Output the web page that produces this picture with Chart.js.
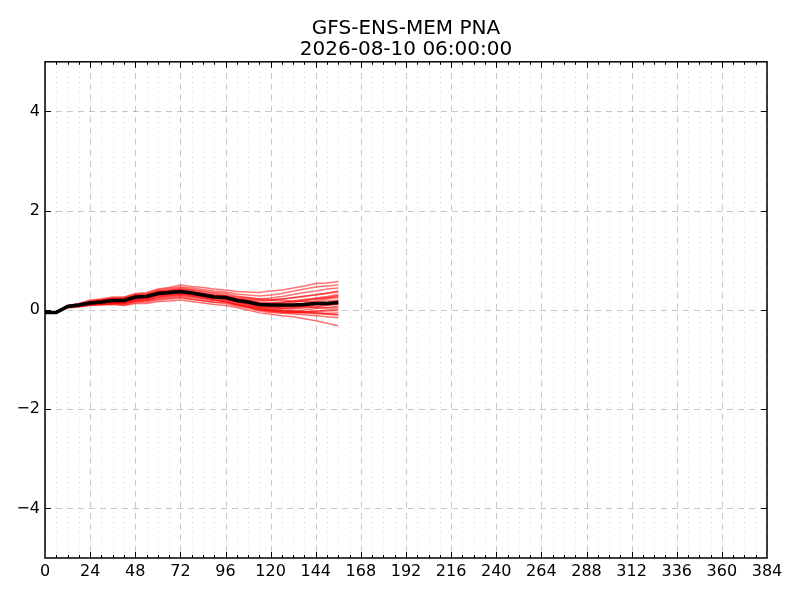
<!DOCTYPE html>
<html>
<head>
<meta charset="utf-8">
<title>GFS-ENS-MEM PNA</title>
<script src="https://cdn.jsdelivr.net/npm/chart.js@4.4.1/dist/chart.umd.min.js"></script>
<style>
  body { margin: 0; background: #fff; }
  #wrap { width: 800px; height: 600px; }
</style>
</head>
<body>
<div id="wrap"><canvas id="grafico" width="800" height="600"></canvas></div>
<script>
// horas de pronostico
const horas = [0, 6, 12, 18, 24, 30, 36, 42, 48, 54, 60, 66, 72, 78, 84, 90, 96, 102, 108, 114, 120, 126, 132, 138, 144, 150, 156];
const ticksX = [0, 24, 48, 72, 96, 120, 144, 168, 192, 216, 240, 264, 288, 312, 336, 360, 384];
const ticksY = [-4, -2, 0, 2, 4];

// media del ensamble
const media = [-0.05, -0.05, 0.07, 0.10, 0.14, 0.16, 0.19, 0.19, 0.26, 0.27, 0.33, 0.35, 0.37, 0.34, 0.30, 0.26, 0.25, 0.19, 0.16, 0.11, 0.10, 0.10, 0.10, 0.11, 0.13, 0.13, 0.15];

// miembros del ensamble
const m01 = [-0.04, -0.04, 0.08, 0.12, 0.18, 0.21, 0.24, 0.25, 0.31, 0.33, 0.40, 0.43, 0.46, 0.44, 0.41, 0.38, 0.36, 0.32, 0.30, 0.28, 0.30, 0.33, 0.38, 0.42, 0.46, 0.48, 0.50];
const m02 = [-0.05, -0.04, 0.09, 0.13, 0.20, 0.22, 0.26, 0.26, 0.33, 0.35, 0.42, 0.45, 0.50, 0.47, 0.45, 0.42, 0.40, 0.37, 0.36, 0.35, 0.38, 0.40, 0.44, 0.48, 0.53, 0.54, 0.57];
const m03 = [-0.05, -0.05, 0.08, 0.11, 0.16, 0.19, 0.22, 0.22, 0.29, 0.31, 0.38, 0.40, 0.42, 0.40, 0.36, 0.33, 0.30, 0.26, 0.24, 0.22, 0.24, 0.27, 0.31, 0.35, 0.38, 0.42, 0.44];
const m04 = [-0.06, -0.05, 0.07, 0.10, 0.15, 0.17, 0.20, 0.21, 0.27, 0.28, 0.35, 0.37, 0.40, 0.36, 0.33, 0.30, 0.28, 0.23, 0.20, 0.18, 0.19, 0.22, 0.25, 0.28, 0.30, 0.33, 0.36];
const m05 = [-0.05, -0.06, 0.06, 0.09, 0.13, 0.15, 0.18, 0.18, 0.25, 0.26, 0.32, 0.34, 0.36, 0.32, 0.28, 0.24, 0.22, 0.17, 0.14, 0.12, 0.13, 0.15, 0.17, 0.20, 0.22, 0.24, 0.27];
const m06 = [-0.04, -0.05, 0.07, 0.11, 0.15, 0.17, 0.21, 0.20, 0.28, 0.29, 0.34, 0.36, 0.38, 0.35, 0.31, 0.27, 0.26, 0.20, 0.16, 0.10, 0.08, 0.08, 0.10, 0.14, 0.18, 0.22, 0.25];
const m07 = [-0.05, -0.05, 0.06, 0.09, 0.12, 0.14, 0.16, 0.15, 0.22, 0.23, 0.29, 0.31, 0.33, 0.30, 0.27, 0.24, 0.23, 0.18, 0.14, 0.08, 0.05, 0.04, 0.05, 0.08, 0.11, 0.14, 0.18];
const m08 = [-0.05, -0.04, 0.08, 0.10, 0.14, 0.16, 0.18, 0.18, 0.25, 0.27, 0.32, 0.35, 0.37, 0.33, 0.29, 0.25, 0.23, 0.16, 0.12, 0.06, 0.04, 0.03, 0.02, 0.04, 0.06, 0.09, 0.12];
const m09 = [-0.06, -0.05, 0.06, 0.08, 0.11, 0.13, 0.15, 0.14, 0.20, 0.21, 0.26, 0.28, 0.30, 0.27, 0.24, 0.20, 0.18, 0.12, 0.08, 0.03, 0.01, -0.01, -0.02, 0.00, 0.03, 0.05, 0.08];
const m10 = [-0.05, -0.05, 0.07, 0.10, 0.14, 0.16, 0.19, 0.20, 0.26, 0.27, 0.33, 0.35, 0.37, 0.34, 0.30, 0.26, 0.24, 0.18, 0.14, 0.08, 0.06, 0.04, 0.04, 0.06, 0.08, 0.10, 0.13];
const m11 = [-0.05, -0.06, 0.05, 0.08, 0.11, 0.12, 0.14, 0.13, 0.18, 0.19, 0.24, 0.26, 0.28, 0.25, 0.22, 0.19, 0.17, 0.11, 0.07, 0.01, -0.02, -0.04, -0.05, -0.04, -0.02, 0.00, 0.02];
const m12 = [-0.04, -0.05, 0.06, 0.09, 0.12, 0.14, 0.16, 0.16, 0.22, 0.24, 0.30, 0.32, 0.34, 0.31, 0.28, 0.25, 0.24, 0.19, 0.15, 0.10, 0.09, 0.08, 0.07, 0.07, 0.05, 0.04, 0.05];
const m13 = [-0.05, -0.05, 0.05, 0.07, 0.10, 0.11, 0.12, 0.10, 0.15, 0.16, 0.20, 0.22, 0.24, 0.21, 0.18, 0.15, 0.13, 0.08, 0.04, -0.02, -0.05, -0.07, -0.08, -0.10, -0.12, -0.14, -0.16];
const m14 = [-0.06, -0.06, 0.04, 0.06, 0.09, 0.10, 0.11, 0.09, 0.13, 0.13, 0.17, 0.18, 0.20, 0.17, 0.14, 0.11, 0.09, 0.05, 0.00, -0.06, -0.09, -0.12, -0.14, -0.18, -0.22, -0.27, -0.32];
const m15 = [-0.05, -0.05, 0.06, 0.08, 0.11, 0.12, 0.14, 0.13, 0.19, 0.20, 0.26, 0.29, 0.31, 0.28, 0.24, 0.20, 0.17, 0.11, 0.06, 0.00, -0.03, -0.05, -0.06, -0.05, -0.06, -0.08, -0.10];
const m16 = [-0.05, -0.04, 0.07, 0.10, 0.15, 0.17, 0.20, 0.20, 0.27, 0.28, 0.34, 0.36, 0.39, 0.36, 0.32, 0.28, 0.26, 0.20, 0.16, 0.11, 0.09, 0.09, 0.11, 0.12, 0.16, 0.18, 0.20];
const m17 = [-0.05, -0.05, 0.07, 0.09, 0.13, 0.15, 0.17, 0.17, 0.23, 0.24, 0.30, 0.32, 0.35, 0.32, 0.28, 0.24, 0.22, 0.16, 0.11, 0.05, 0.02, 0.00, -0.02, -0.04, -0.03, -0.02, -0.01];
const m18 = [-0.05, -0.05, 0.08, 0.11, 0.16, 0.18, 0.21, 0.21, 0.28, 0.29, 0.35, 0.37, 0.39, 0.35, 0.32, 0.29, 0.28, 0.24, 0.22, 0.20, 0.20, 0.19, 0.18, 0.17, 0.15, 0.14, 0.12];
const m19 = [-0.04, -0.04, 0.09, 0.12, 0.17, 0.20, 0.23, 0.23, 0.30, 0.31, 0.37, 0.40, 0.44, 0.41, 0.38, 0.35, 0.33, 0.28, 0.25, 0.22, 0.21, 0.22, 0.24, 0.27, 0.31, 0.34, 0.38];
const m20 = [-0.06, -0.06, 0.05, 0.07, 0.10, 0.11, 0.13, 0.12, 0.17, 0.18, 0.22, 0.24, 0.26, 0.22, 0.19, 0.16, 0.15, 0.10, 0.06, 0.01, -0.01, -0.03, -0.04, -0.03, -0.05, -0.07, -0.06];
const m21 = [-0.05, -0.05, 0.07, 0.10, 0.14, 0.17, 0.20, 0.19, 0.27, 0.28, 0.34, 0.37, 0.38, 0.35, 0.31, 0.27, 0.25, 0.19, 0.15, 0.10, 0.08, 0.07, 0.08, 0.10, 0.12, 0.14, 0.17];
const m22 = [-0.05, -0.04, 0.08, 0.12, 0.17, 0.19, 0.22, 0.22, 0.29, 0.30, 0.36, 0.38, 0.41, 0.38, 0.34, 0.30, 0.28, 0.22, 0.19, 0.14, 0.13, 0.13, 0.15, 0.18, 0.22, 0.25, 0.29];
const m23 = [-0.05, -0.05, 0.06, 0.09, 0.12, 0.14, 0.16, 0.16, 0.22, 0.23, 0.29, 0.31, 0.33, 0.30, 0.26, 0.22, 0.20, 0.14, 0.10, 0.04, 0.00, -0.02, -0.03, -0.06, -0.08, -0.09, -0.11];
const m24 = [-0.05, -0.05, 0.07, 0.10, 0.14, 0.16, 0.18, 0.19, 0.25, 0.26, 0.32, 0.34, 0.36, 0.33, 0.29, 0.26, 0.25, 0.21, 0.18, 0.15, 0.15, 0.16, 0.18, 0.21, 0.24, 0.27, 0.31];

const miembros = [m01, m02, m03, m04, m05, m06, m07, m08, m09, m10, m11, m12,
                  m13, m14, m15, m16, m17, m18, m19, m20, m21, m22, m23, m24];

function puntos(valores) {
    return horas.map((h, i) => ({ x: h, y: valores[i] }));
}

const datasets = [{
    label: 'media',
    data: puntos(media),
    borderColor: '#000000',
    borderWidth: 3.5,
    order: 0
}];
miembros.forEach((m, i) => {
    datasets.push({
        label: 'miembro ' + (i + 1),
        data: puntos(m),
        borderColor: 'rgba(255, 0, 0, 0.55)',
        borderWidth: 1.5,
        order: 1
    });
});

// rejilla, marco y marcas hacia adentro estilo matplotlib
const marco = {
    id: 'marco',
    beforeDatasetsDraw(chart) {
        const ctx = chart.ctx;
        const a = chart.chartArea;
        const sx = chart.scales.x, sy = chart.scales.y;
        ctx.save();
        ctx.lineWidth = 1;
        // menores cada 6 horas
        ctx.strokeStyle = 'rgba(0, 0, 0, 0.16)';
        ctx.setLineDash([1, 4]);
        for (let h = 6; h < 384; h += 6) {
            if (h % 24 === 0) continue;
            const px = Math.round(sx.getPixelForValue(h)) + 0.5;
            ctx.beginPath(); ctx.moveTo(px, a.top); ctx.lineTo(px, a.bottom); ctx.stroke();
        }
        // mayores
        ctx.strokeStyle = 'rgba(0, 0, 0, 0.22)';
        ctx.setLineDash([6, 5]);
        ticksX.forEach(h => {
            const px = Math.round(sx.getPixelForValue(h)) + 0.5;
            ctx.beginPath(); ctx.moveTo(px, a.top); ctx.lineTo(px, a.bottom); ctx.stroke();
        });
        ticksY.forEach(v => {
            const py = Math.round(sy.getPixelForValue(v)) + 0.5;
            ctx.beginPath(); ctx.moveTo(a.left, py); ctx.lineTo(a.right, py); ctx.stroke();
        });
        ctx.restore();
    },
    afterDatasetsDraw(chart) {
        const ctx = chart.ctx;
        const a = chart.chartArea;
        const sx = chart.scales.x, sy = chart.scales.y;
        ctx.save();
        ctx.strokeStyle = '#000';
        ctx.lineWidth = 1;
        ctx.setLineDash([]);
        ctx.beginPath();
        for (let h = 6; h < 384; h += 6) {
            const px = Math.round(sx.getPixelForValue(h)) + 0.5;
            const largo = (h % 24 === 0) ? 6 : 3;
            ctx.moveTo(px, a.bottom); ctx.lineTo(px, a.bottom - largo);
            ctx.moveTo(px, a.top); ctx.lineTo(px, a.top + largo);
        }
        ticksY.forEach(v => {
            const py = Math.round(sy.getPixelForValue(v)) + 0.5;
            ctx.moveTo(a.left, py); ctx.lineTo(a.left + 6, py);
            ctx.moveTo(a.right, py); ctx.lineTo(a.right - 6, py);
        });
        ctx.stroke();
        ctx.lineWidth = 1.5;
        ctx.strokeRect(a.left, a.top, a.right - a.left, a.bottom - a.top);
        ctx.restore();
    }
};

const fuente = 'DejaVu Sans';

new Chart(document.getElementById('grafico'), {
    type: 'line',
    data: { datasets: datasets },
    options: {
        responsive: false,
        animation: false,
        layout: { padding: { left: 0, right: 33, top: 0, bottom: 0 } },
        elements: {
            point: { radius: 0 },
            line: { tension: 0, fill: false }
        },
        plugins: {
            legend: { display: false },
            tooltip: { enabled: false },
            title: {
                display: true,
                fullSize: false,
                text: ['GFS-ENS-MEM PNA', '2026-08-10 06:00:00'],
                color: '#000',
                font: { family: fuente, size: 20, weight: 'normal', lineHeight: 1.07 },
                padding: { top: 18, bottom: 1 }
            }
        },
        scales: {
            x: {
                type: 'linear',
                min: 0,
                max: 384,
                grid: { display: false, drawTicks: false },
                border: { display: false },
                afterBuildTicks: s => { s.ticks = ticksX.map(v => ({ value: v })); },
                afterFit: s => { s.height = 42; },
                ticks: {
                    padding: 4,
                    maxRotation: 0,
                    autoSkip: false,
                    color: '#000',
                    font: { family: fuente, size: 16 }
                }
            },
            y: {
                min: -5,
                max: 5,
                grid: { display: false, drawTicks: false },
                border: { display: false },
                afterBuildTicks: s => { s.ticks = ticksY.map(v => ({ value: v })); },
                afterFit: s => { s.width = 45; },
                ticks: {
                    padding: 5,
                    color: '#000',
                    font: { family: fuente, size: 16 },
                    callback: v => String(v).replace('-', '\u2212')
                }
            }
        }
    },
    plugins: [marco]
});
</script>
</body>
</html>
